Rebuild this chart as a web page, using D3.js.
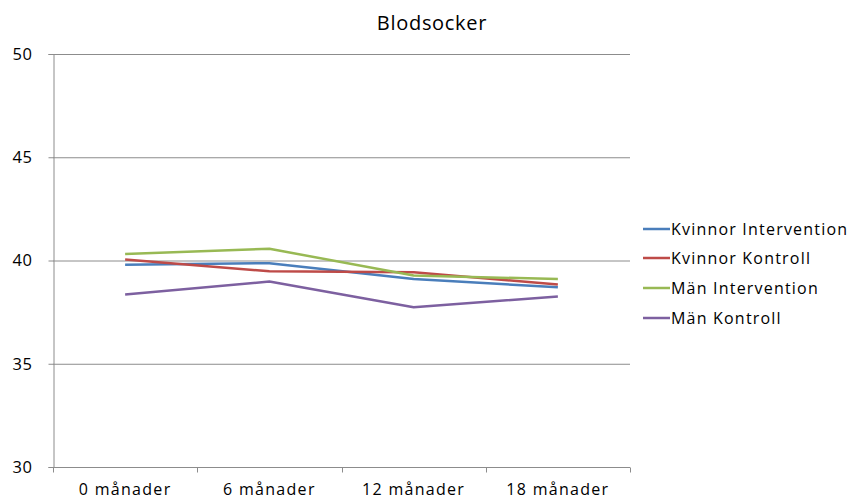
<!DOCTYPE html>
<html>
<head>
<meta charset="utf-8">
<script src="https://cdn.jsdelivr.net/npm/d3@7"></script>
<style>
  html, body { margin: 0; padding: 0; background: #fff; }
  svg { display: block; font-family: "Open Sans", "Liberation Sans", sans-serif; }
</style>
</head>
<body>
<svg id="chart" width="852" height="499"></svg>
<script>
// Time points and y-axis ticks
const categories = ["0 månader", "6 månader", "12 månader", "18 månader"];
const yTicks = [30, 35, 40, 45, 50];

// Series values (Blodsocker per group)
const kvinnorIntervention = [39.8, 39.87, 39.1, 38.7];
const kvinnorKontroll = [40.05, 39.48, 39.43, 38.84];
const manIntervention = [40.32, 40.57, 39.27, 39.1];
const manKontroll = [38.35, 38.98, 37.74, 38.26];

const seriesNames = ["Kvinnor Intervention", "Kvinnor Kontroll", "Män Intervention", "Män Kontroll"];
const seriesColors = ["#4A7EBB", "#BE4B48", "#98B954", "#7D60A0"];
const seriesValues = [kvinnorIntervention, kvinnorKontroll, manIntervention, manKontroll];

const svg = d3.select("#chart");
const margin = { left: 53, right: 222, top: 54, bottom: 32 };
const W = 852, H = 499;

const x = d3.scaleBand().domain(categories).range([margin.left, W - margin.right]);
const y = d3.scaleLinear().domain([30, 50]).range([H - margin.bottom, margin.top]);

const gridColor = "#8c8c8c";

// Horizontal gridlines
svg.append("g").selectAll("line").data(yTicks.filter(t => t !== 30)).join("line")
  .attr("x1", margin.left).attr("x2", W - margin.right)
  .attr("y1", d => y(d) + 0.5).attr("y2", d => y(d) + 0.5)
  .attr("stroke", gridColor).attr("stroke-width", 1);

// Y axis
const yAxis = svg.append("g")
  .attr("transform", `translate(${margin.left + 0.5},0)`)
  .call(d3.axisLeft(y).tickValues(yTicks).tickSize(5).tickPadding(16));
yAxis.select(".domain").attr("stroke", gridColor);
yAxis.selectAll(".tick line").attr("stroke", gridColor);
yAxis.selectAll("text").attr("font-size", 16.5).attr("fill", "#000")
  .attr("letter-spacing", 0.6)
  .attr("font-family", "'Open Sans', sans-serif");

// X axis with ticks at band boundaries
const xAxisG = svg.append("g").attr("transform", `translate(0,${y(30) + 0.5})`);
xAxisG.append("line")
  .attr("x1", margin.left).attr("x2", W - margin.right)
  .attr("stroke", gridColor);
const boundaries = categories.map(c => x(c)).concat([x(categories[categories.length - 1]) + x.bandwidth()]);
xAxisG.selectAll("line.tk").data(boundaries).join("line").attr("class", "tk")
  .attr("x1", d => Math.round(d) + 0.5).attr("x2", d => Math.round(d) + 0.5)
  .attr("y1", 0).attr("y2", 5).attr("stroke", gridColor);
xAxisG.selectAll("text").data(categories).join("text")
  .attr("x", d => x(d) + x.bandwidth() / 2)
  .attr("y", 27)
  .attr("text-anchor", "middle")
  .attr("font-size", 16)
  .attr("letter-spacing", 1.3)
  .attr("fill", "#000")
  .text(d => d);

// Title
svg.append("text")
  .attr("x", 432).attr("y", 30)
  .attr("text-anchor", "middle")
  .attr("font-size", 20)
  .attr("letter-spacing", 0.7)
  .attr("fill", "#000")
  .text("Blodsocker");

// Lines
const line = d3.line()
  .x((d, i) => x(categories[i]) + x.bandwidth() / 2)
  .y(d => y(d));

svg.append("g").selectAll("path").data(seriesValues).join("path")
  .attr("d", d => line(d))
  .attr("fill", "none")
  .attr("stroke", (d, i) => seriesColors[i])
  .attr("stroke-width", 2.5)
  .attr("stroke-linejoin", "round");

// Legend
const legend = svg.append("g");
const legendY = [229, 258, 288, 318];
seriesNames.forEach((name, i) => {
  legend.append("line")
    .attr("x1", 643).attr("x2", 670)
    .attr("y1", legendY[i]).attr("y2", legendY[i])
    .attr("stroke", seriesColors[i]).attr("stroke-width", 2.5);
  legend.append("text")
    .attr("x", 671).attr("y", legendY[i] + 6)
    .attr("font-size", 16)
    .attr("letter-spacing", 1.2)
    .attr("fill", "#000")
    .text(name);
});
</script>
</body>
</html>
